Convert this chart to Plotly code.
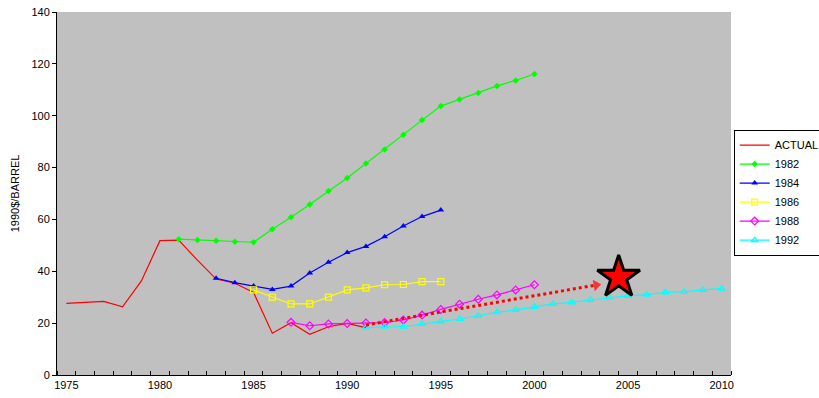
import plotly.graph_objects as go

# Actual oil price history (1990 dollars per barrel)
actual_years = [1975, 1977, 1978, 1979, 1980, 1981, 1982, 1983, 1984, 1985,
                1986, 1987, 1988, 1989, 1990, 1991]
actual_prices = [27.6, 28.4, 26.3, 36.2, 51.8, 52.0, 44.3, 37.0, 35.4, 31.8,
                 16.1, 20.2, 15.7, 18.6, 19.9, 18.3]

# Forecasts by publication year
f1982_years = list(range(1981, 2001))
f1982_prices = [52.4, 52.1, 51.8, 51.4, 51.2, 56.2, 60.8, 65.8, 71.0, 76.0,
                81.6, 87.0, 92.7, 98.3, 103.7, 106.3, 108.8, 111.5, 113.6, 116.1]

f1984_years = list(range(1983, 1996))
f1984_prices = [37.3, 35.6, 34.3, 33.0, 34.3, 39.3, 43.5, 47.2, 49.6, 53.3,
                57.5, 61.1, 63.6]

f1986_years = list(range(1985, 1996))
f1986_prices = [32.8, 30.0, 27.4, 27.4, 30.0, 32.8, 33.6, 34.8, 34.9, 36.0, 36.0]

f1988_years = list(range(1987, 2001))
f1988_prices = [20.3, 19.0, 19.7, 19.9, 20.1, 20.2, 21.2, 23.1, 25.3, 27.3,
                29.2, 30.9, 32.8, 34.8]

f1992_years = list(range(1991, 2011))
f1992_prices = [18.3, 18.6, 18.6, 19.7, 20.6, 21.6, 22.8, 24.2, 25.1, 26.3,
                27.4, 28.0, 29.0, 29.8, 30.5, 31.0, 31.9, 32.1, 32.8, 33.3]

# Trend arrow and highlighted point
trend_years = [1991, 2003.3]
trend_prices = [19.3, 34.7]
star_year = [2004.5]
star_price = [37.7]

x_tick_vals = [1975, 1980, 1985, 1990, 1995, 2000, 2005, 2010]
y_tick_vals = [0, 20, 40, 60, 80, 100, 120, 140]

FONT = "Liberation Sans, Arial, sans-serif"

fig = go.Figure()

fig.add_trace(go.Scatter(x=actual_years, y=actual_prices, mode="lines",
                         name="ACTUAL", line=dict(color="#FF0000", width=1.2)))
fig.add_trace(go.Scatter(x=f1982_years, y=f1982_prices, mode="lines+markers",
                         name="1982", line=dict(color="#00FF00", width=1.2),
                         marker=dict(symbol="diamond", size=5, color="#00FF00")))
fig.add_trace(go.Scatter(x=f1984_years, y=f1984_prices, mode="lines+markers",
                         name="1984", line=dict(color="#0000FF", width=1.2),
                         marker=dict(symbol="triangle-up", size=6, color="#0000FF")))
fig.add_trace(go.Scatter(x=f1986_years, y=f1986_prices, mode="lines+markers",
                         name="1986", line=dict(color="#FFFF00", width=1.2),
                         marker=dict(symbol="square-open", size=6, color="#FFFF00",
                                     line=dict(width=1.2))))
fig.add_trace(go.Scatter(x=f1988_years, y=f1988_prices, mode="lines+markers",
                         name="1988", line=dict(color="#FF00FF", width=1.2),
                         marker=dict(symbol="diamond-open", size=6, color="#FF00FF",
                                     line=dict(width=1.2))))
fig.add_trace(go.Scatter(x=f1992_years, y=f1992_prices, mode="lines+markers",
                         name="1992", line=dict(color="#00FFFF", width=1.2),
                         marker=dict(symbol="triangle-up-open", size=6, color="#00FFFF",
                                     line=dict(width=1.2))))

# Dotted trend arrow
fig.add_trace(go.Scatter(x=trend_years, y=trend_prices, mode="lines+markers",
                         showlegend=False, hoverinfo="skip",
                         line=dict(color="#FF0000", width=3, dash="dot"),
                         marker=dict(symbol=["circle", "triangle-up"], size=[0, 10],
                                     color="#FF0000", angleref="previous",
                                     line=dict(width=0))))
# Star
fig.add_trace(go.Scatter(x=star_year, y=star_price, mode="markers",
                         showlegend=False, hoverinfo="skip",
                         marker=dict(symbol="star", size=32, color="#FF0000",
                                     line=dict(color="#000000", width=3))))

fig.update_layout(
    width=819, height=398,
    margin=dict(l=57, r=88, t=12, b=23, autoexpand=False),
    paper_bgcolor="#FFFFFF",
    plot_bgcolor="#C0C0C0",
    font=dict(family=FONT, size=11, color="#000000"),
    showlegend=True,
    legend=dict(x=1.004, y=0.676, xanchor="left", yanchor="top",
                bgcolor="#FFFFFF", bordercolor="#000000", borderwidth=1,
                font=dict(family=FONT, size=11, color="#000000"),
                tracegroupgap=0, itemwidth=30),
)

fig.update_xaxes(
    range=[1974.5, 2010.5],
    tickmode="array", tickvals=x_tick_vals,
    ticks="", showgrid=False, zeroline=False,
    showline=True, linecolor="#000000", linewidth=1,
    tickfont=dict(family=FONT, size=11),
    minor=dict(tickmode="linear", tick0=1974.5, dtick=1, ticks="inside",
               ticklen=4, tickcolor="#000000", showgrid=False),
)
fig.update_yaxes(
    range=[0, 140],
    tickmode="array", tickvals=y_tick_vals,
    ticks="outside", ticklen=4, tickcolor="#000000",
    showgrid=False, zeroline=False,
    showline=True, linecolor="#000000", linewidth=1,
    tickfont=dict(family=FONT, size=11),
    title=dict(text="1990$/BARREL", font=dict(family=FONT, size=11), standoff=9),
)

fig.write_html("out.html")
